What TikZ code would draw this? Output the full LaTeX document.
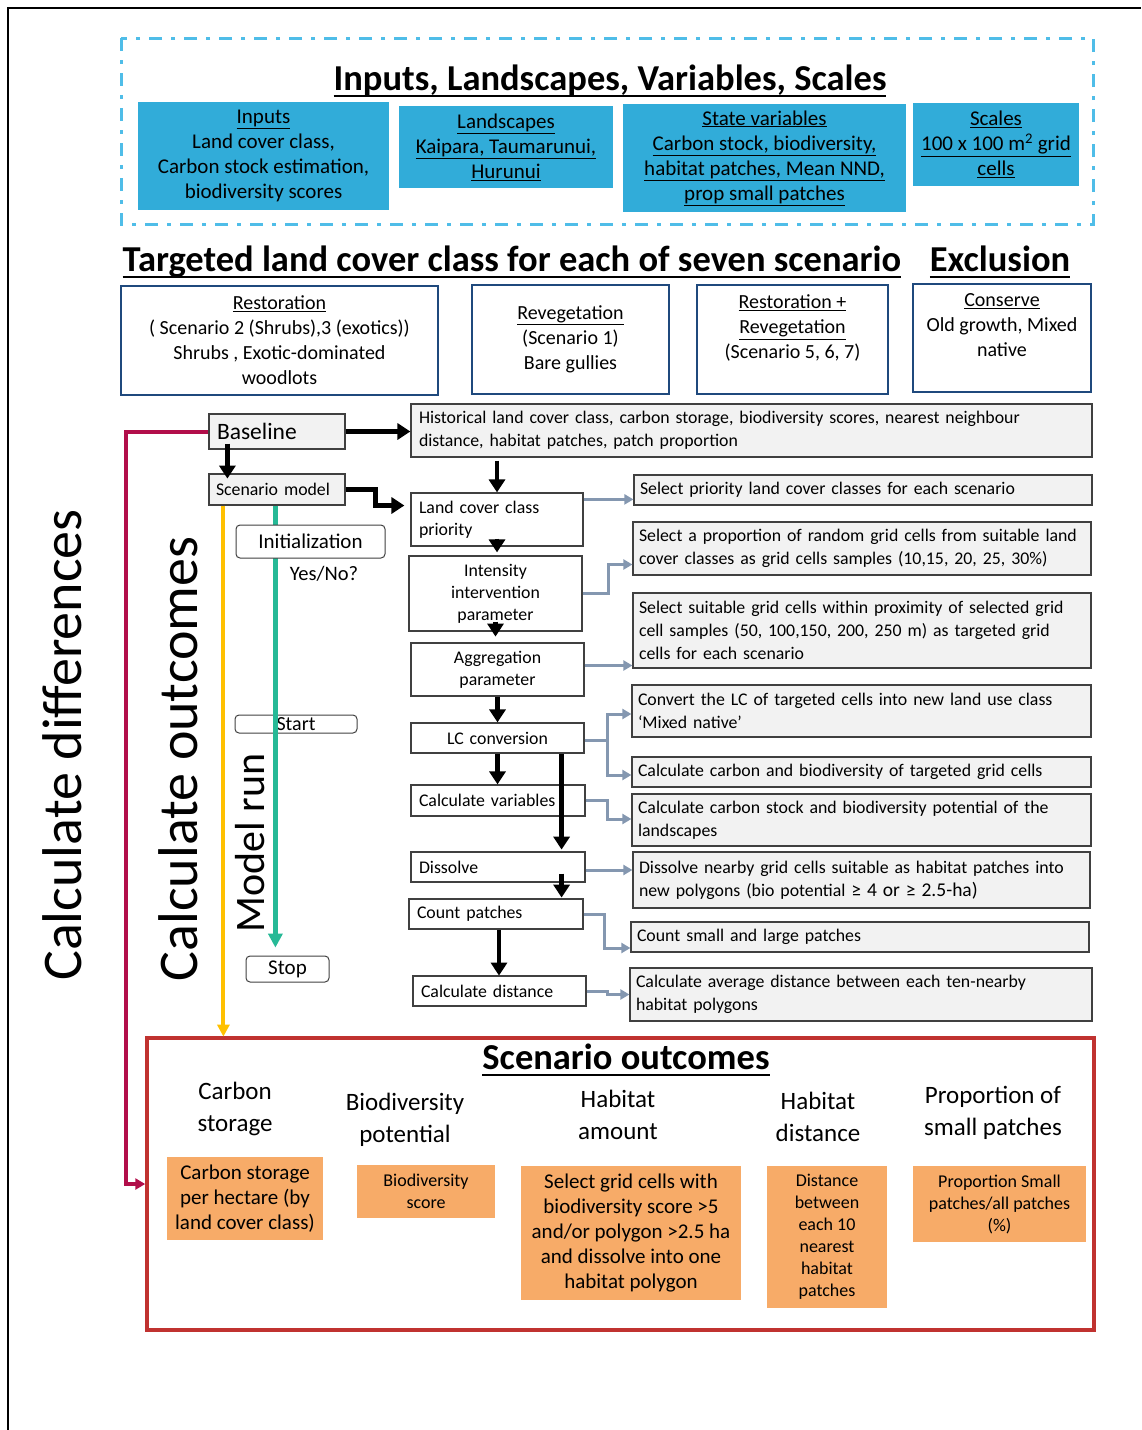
\documentclass[tikz,border=0pt]{standalone}
\usepackage{fontspec}
\setmainfont{Carlito}
\usetikzlibrary{arrows.meta, positioning, calc}

\definecolor{dashblue}{RGB}{79,189,232}
\definecolor{boxblue}{RGB}{49,172,217}
\definecolor{navyline}{RGB}{31,73,125}
\definecolor{boxgray}{RGB}{242,242,242}
\definecolor{edgegray}{RGB}{64,64,64}
\definecolor{linkblue}{RGB}{132,151,176}
\definecolor{diffred}{RGB}{178,14,74}
\definecolor{outyellow}{RGB}{255,192,0}
\definecolor{runteal}{RGB}{38,185,150}
\definecolor{framered}{RGB}{192,50,48}
\definecolor{outorange}{RGB}{247,171,104}

\newcommand{\fsz}[2]{\fontsize{#1}{#2}\selectfont}
% heading underline, thicker than \underline
\newcommand{\headul}[1]{\setbox0\hbox{#1}\leavevmode\rlap{\rule[-7pt]{\wd0}{2.6pt}}\box0}

\begin{document}
\begin{tikzpicture}[
    x=1pt, y=-1pt,
    bluebox/.style={fill=boxblue, inner sep=0pt, align=center, font=\fsz{21}{25}},
    scenbox/.style={draw=navyline, line width=2.5pt, fill=white, inner sep=0pt, align=center, font=\fsz{20}{25}},
    graybox/.style={draw=edgegray, line width=1.2pt, fill=boxgray, inner xsep=6pt, inner ysep=0pt, align=left, font=\fsz{17.8}{23}},
    stepbox/.style={draw=edgegray, line width=1.2pt, fill=white, inner xsep=8pt, inner ysep=0pt, font=\fsz{17.8}{22}},
    runbox/.style={draw=edgegray, line width=1pt, rounded corners=4pt, inner sep=0pt, font=\fsz{21}{24}},
    outbox/.style={fill=outorange, inner sep=0pt, align=center},
    heading/.style={font=\bfseries\fsz{36.5}{40}},
    subhead/.style={align=center, font=\fsz{25}{32}},
    sidelabel/.style={rotate=90, font=\fsz{56}{58}},
    arrow/.style={line width=4.5pt, -{Triangle[width=16pt,length=13pt]}},
    link/.style={draw=linkblue, line width=3pt, -{Triangle[width=10pt,length=9pt]}}
]
\useasboundingbox (0,0) rectangle (1141,1430);
\draw[line width=1.5pt] (8,1430) -- (8,8) -- (1141,8);

% inputs, landscapes, variables, scales
\draw[dashblue, line width=3pt, dash pattern=on 13pt off 9pt on 4pt off 9pt] (121,38) rectangle (1093,224);
\node[heading] (toptitle) at (610,81) {\headul{Inputs, Landscapes, Variables, Scales}};
\node[bluebox, minimum width=251, minimum height=108] (inputs) at (263.5,156) {\underline{Inputs}\\Land cover class,\\Carbon stock estimation,\\biodiversity scores};
\node[bluebox, minimum width=214, minimum height=82] (landsc) at (506,147) {\underline{Landscapes}\\\underline{Kaipara, Taumarunui,}\\\underline{Hurunui}};
\node[bluebox, minimum width=283, minimum height=108] (statevar) at (764.5,158) {\underline{State variables}\\\underline{Carbon stock, biodiversity,}\\\underline{habitat patches, Mean NND,}\\\underline{prop small patches}};
\node[bluebox, minimum width=166, minimum height=83] (scales) at (996,144.5) {\underline{Scales}\\\underline{100 x 100 m\textsuperscript{2} grid}\\\underline{cells}};

% targeted classes
\node[heading] (target) at (512,262) {\headul{Targeted land cover class for each of seven scenario}};
\node[heading] (exclusion) at (1000,262) {\headul{Exclusion}};
\node[scenbox, minimum width=317, minimum height=109] (restor) at (279.5,340.5) {\underline{Restoration}\\( Scenario 2 (Shrubs),3 (exotics))\\Shrubs , Exotic-dominated\\woodlots};
\node[scenbox, minimum width=197, minimum height=109] (reveg) at (570.5,339.5) {\underline{Revegetation}\\(Scenario 1)\\Bare gullies};
\node[scenbox, minimum width=191, minimum height=109] (both) at (792.5,339.5) {\underline{Restoration +}\\\underline{Revegetation}\\(Scenario 5, 6, 7)\\\mbox{}};
\node[scenbox, minimum width=178, minimum height=108] (conserve) at (1002,338) {\underline{Conserve}\\Old growth, Mixed\\native\\\mbox{}};

% model steps
\node[graybox, text width=120, inner xsep=8pt, minimum height=35, font=\fsz{23.5}{26}] (base) at (277,431.5) {Baseline};
\node[graybox, text width=122, inner xsep=7pt, minimum height=31] (scen) at (277,489.5) {Scenario model};
\node[graybox, text width=665, inner xsep=8pt, minimum height=53] (hist) at (751.5,430.5) {Historical land cover class, carbon storage, biodiversity scores, nearest neighbour\\distance, habitat patches, patch proportion};
\node[stepbox, text width=156, minimum height=53, align=left] (lcc) at (497,519.5) {Land cover class\\priority};
\node[stepbox, text width=157, minimum height=75, align=center] (inten) at (495.5,593.5) {Intensity\\intervention\\parameter};
\node[stepbox, text width=157, minimum height=53, align=center] (aggr) at (497.5,669.5) {Aggregation\\parameter};
\node[stepbox, text width=157, minimum height=30, align=center] (lcconv) at (497.5,738) {LC conversion};
\node[stepbox, text width=158, minimum height=31, align=left] (calcvar) at (498,800.5) {Calculate variables};
\node[stepbox, text width=158, minimum height=30, align=left] (dissolve) at (498,867) {Dissolve};
\node[stepbox, text width=158, minimum height=30, align=left] (count) at (496,914) {Count patches};
\node[stepbox, text width=157, minimum height=30, align=left] (calcdist) at (499.5,991) {Calculate distance};

% what each step does
\node[graybox, text width=446, minimum height=30] (r1) at (863,490) {Select priority land cover classes for each scenario};
\node[graybox, text width=446, minimum height=53] (r2) at (862,548.5) {Select a proportion of random grid cells from suitable land\\cover classes as grid cells samples (10,15, 20, 25, 30\%)};
\node[graybox, text width=446, minimum height=75] (r3) at (862,630.5) {Select suitable grid cells within proximity of selected grid\\cell samples (50, 100,150, 200, 250 m) as targeted grid\\cells for each scenario};
\node[graybox, text width=447, minimum height=52] (r4) at (861.5,711) {Convert the LC of targeted cells into new land use class\\‘Mixed native’};
\node[graybox, text width=447, minimum height=30] (r5) at (861.5,772) {Calculate carbon and biodiversity of targeted grid cells};
\node[graybox, text width=447, minimum height=52] (r6) at (861.5,820) {Calculate carbon stock and biodiversity potential of the\\landscapes};
\node[graybox, text width=445, minimum height=56] (r7) at (861.5,880) {Dissolve nearby grid cells suitable as habitat patches into\\new polygons (bio potential {\fsz{19.5}{23}≥ 4 or ≥ 2.5-ha)}};
\node[graybox, text width=446, minimum height=30] (r8) at (860,937) {Count small and large patches};
\node[graybox, text width=450, minimum height=53] (r9) at (861,994.5) {Calculate average distance between each ten-nearby\\habitat polygons};

% outcomes
\node[draw=framered, line width=3.5pt, minimum width=947, minimum height=292, inner sep=0pt] (outframe) at (620.5,1184) {};
\node[heading] (outtitle) at (626,1060) {\headul{Scenario outcomes}};
\node[subhead] (hcarbon) at (235,1109) {Carbon\\storage};
\node[subhead] (hbio) at (405,1119.5) {Biodiversity\\potential};
\node[subhead] (hamount) at (618,1115) {Habitat\\amount};
\node[subhead] (hdist) at (818,1116.5) {Habitat\\distance};
\node[subhead] (hprop) at (993,1112.5) {Proportion of\\small patches};
\node[outbox, minimum width=156, minimum height=83, font=\fsz{21}{25}] (ocarbon) at (245,1198.5) {Carbon storage\\per hectare (by\\land cover class)};
\node[outbox, minimum width=138, minimum height=53, font=\fsz{18}{22}] (obio) at (426,1191.5) {Biodiversity\\score};
\node[outbox, minimum width=220, minimum height=134, font=\fsz{21}{25}] (oamount) at (631,1233) {Select grid cells with\\biodiversity score >5\\and/or polygon >2.5 ha\\and dissolve into one\\habitat polygon};
\node[outbox, minimum width=120, minimum height=142, font=\fsz{18}{22}] (odist) at (827,1237) {Distance\\between\\each 10\\nearest\\habitat\\patches};
\node[outbox, minimum width=173, minimum height=76, font=\fsz{18}{22}] (oprop) at (999.5,1204) {Proportion Small\\patches/all patches\\(\%)};

% run control
\node[sidelabel] (diffs) at (62,745) {Calculate differences};
\node[sidelabel] (outcomes) at (178,759) {Calculate outcomes};
\node[rotate=90, font=\fsz{42}{44}] (modelrun) at (250,843) {Model run};
\node[runbox, minimum width=122, minimum height=18, font=\fsz{20}{20}] (start) at (296,724) {Start};
\draw[runteal, line width=4.5pt, -{Triangle[width=14pt,length=14pt]}] ($(scen.south west)+(67,0)$) -- ++(0,442);
\node[runbox, fill=white, minimum width=149, minimum height=33] (init) at (310.5,541.5) {Initialization};
\node[font=\fsz{20.5}{22}] (yesno) at (324,574) {Yes/No?};
\node[runbox, minimum width=83, minimum height=26] (stop) at (287.5,969) {Stop};
\draw[outyellow, line width=4pt, -{Triangle[width=12pt,length=12pt]}] ($(scen.south west)+(15,0)$) -- ++(0,531);
\draw[diffred, line width=4pt, -{Triangle[width=11pt,length=10pt]}] (base.west) -- ++(-82,0) |- (outframe.west);

% black flow
\draw[arrow] (base.east) -- (base.east -| hist.west);
\draw[arrow] ($(base.south west)+(19,-6)$) -- ++(0,35);
\draw[arrow] (scen.east) -- ++(30,0) |- ($(lcc.west)+(-6,-14)$);
\draw[arrow] ($(hist.south -| lcc.north)+(0,3)$) -- (lcc.north);
\draw[arrow] ($(lcc.south)+(0,-8)$) -- ($(lcc.south |- inten.north)+(0,-3)$);
\draw[arrow] ($(inten.south)+(0,-10)$) -- ($(inten.south)+(0,5)$);
\draw[arrow] (aggr.south) -- (aggr.south |- lcconv.north);
\draw[arrow] (lcconv.south) -- (lcconv.south |- calcvar.north);
\draw[arrow] ($(lcconv.south east)+(-23,0)$) -- ++(0,96);
\draw[arrow] ($(dissolve.south east)+(-24,-9)$) -- ++(0,24);
\draw[arrow] ($(count.south)+(3,0)$) -- ++(0,46);

% links to descriptions
\draw[link] ($(lcc.north east)+(0,7)$) coordinate (l1) -- (l1 -| r1.west);
\draw[link] (inten.east) -- ++(26,0) |- ($(r2.west)+(0,16)$);
\draw[link] ($(aggr.east)+(0,-4)$) coordinate (l3) -- (l3 -| r3.west);
\draw[link] ($(lcconv.east)+(0,2)$) -- ++(23,0) coordinate (fork) |- ($(r4.west)+(0,3)$);
\draw[link] (fork) |- ($(r5.west)+(0,3)$);
\draw[link] (calcvar.east) -- ++(22,0) |- ($(r6.west)+(0,-1)$);
\draw[link] ($(dissolve.east)+(0,3)$) coordinate (l7) -- (l7 -| r7.west);
\draw[link] (count.east) -- ++(21,0) |- ($(r8.west)+(0,11)$);
\draw[link] (calcdist.east) -- ++(21,0) |- (r9.west);
\end{tikzpicture}
\end{document}
